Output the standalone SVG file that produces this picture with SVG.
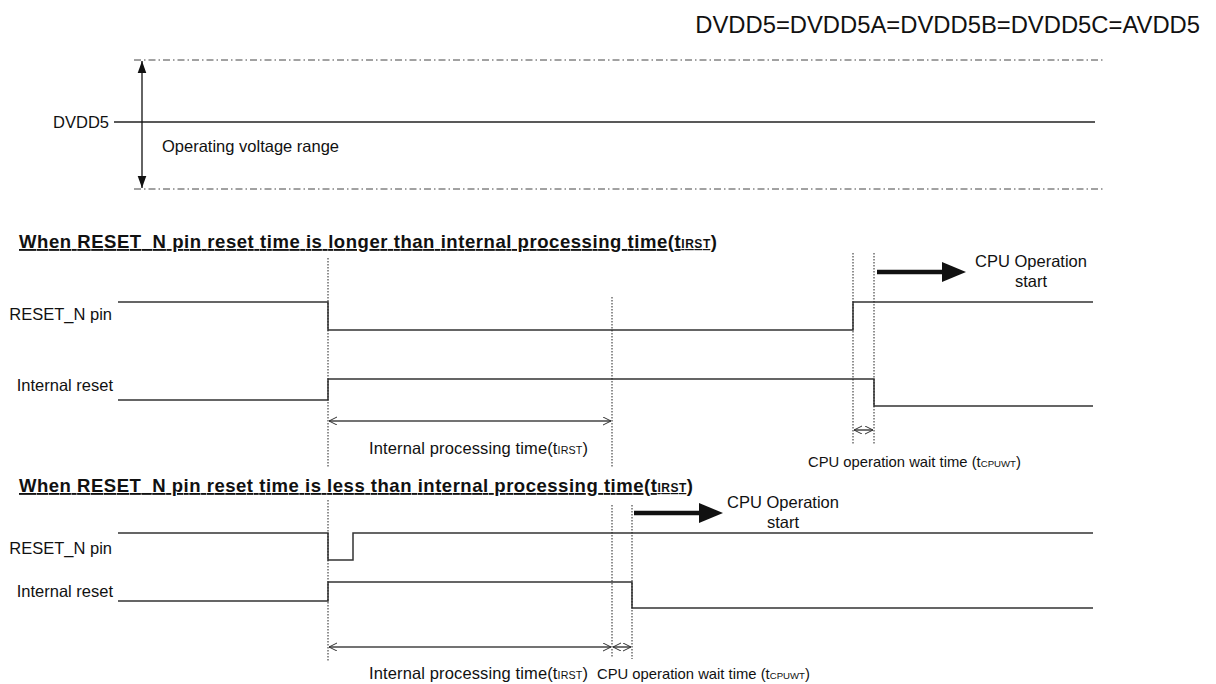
<svg xmlns="http://www.w3.org/2000/svg" width="1216" height="684" viewBox="0 0 1216 684">
<defs>
<marker id="open" markerWidth="10" markerHeight="10" refX="8" refY="4" orient="auto-start-reverse" markerUnits="userSpaceOnUse">
<path d="M0,0 L8,4 L0,8" fill="none" stroke="#333" stroke-width="1"/>
</marker>
<marker id="solid" markerWidth="12" markerHeight="16" refX="14" refY="5" orient="auto-start-reverse" markerUnits="userSpaceOnUse" viewBox="0 0 14 10">
<path d="M0,0 L14,5 L0,10 Z" fill="#111"/>
</marker>
<style>
.t{font-family:"Liberation Sans",Arial,sans-serif;font-size:16.5px;fill:#111}
.s{font-family:"Liberation Sans",Arial,sans-serif;font-size:14.8px;fill:#111}
.h{font-family:"Liberation Sans",Arial,sans-serif;font-size:23.8px;fill:#111}
.b{font-family:"Liberation Sans",Arial,sans-serif;font-size:18.5px;font-weight:bold;fill:#111;text-decoration:underline}
.sub{font-size:0.65em}
.sig{fill:none;stroke:#333;stroke-width:1.5}
.dd{fill:none;stroke:#444;stroke-width:1;stroke-dasharray:7 3 1.5 3}
.dot{fill:none;stroke:#222;stroke-width:1;stroke-dasharray:1.5 1.5}
.dim{fill:none;stroke:#444;stroke-width:1.5;marker-start:url(#open);marker-end:url(#open)}
.thick{fill:none;stroke:#111;stroke-width:4.5}
</style>
</defs>

<text id="header" class="h" x="1200" y="33" text-anchor="end">DVDD5=DVDD5A=DVDD5B=DVDD5C=AVDD5</text>

<g id="voltage">
<line class="dd" x1="134" y1="60" x2="1103" y2="60"/>
<line class="dd" x1="134" y1="189" x2="1103" y2="189"/>
<line x1="114" y1="122" x2="1095" y2="122" stroke="#222" stroke-width="1.3"/>
<line x1="142" y1="61" x2="142" y2="188" stroke="#111" stroke-width="1.3" marker-start="url(#solid)" marker-end="url(#solid)"/>
<text class="t" x="109" y="128" text-anchor="end">DVDD5</text>
<text class="t" x="162" y="152">Operating voltage range</text>
</g>

<g id="section1">
<text class="b" x="19" y="248" textLength="698" lengthAdjust="spacing">When RESET_N pin reset time is longer than internal processing time(t<tspan class="sub">IRST</tspan>)</text>
<text class="t" x="112" y="320" text-anchor="end">RESET_N pin</text>
<text class="t" x="113" y="391" text-anchor="end">Internal reset</text>
<g id="s1-reset-n"><path class="sig" d="M118,302 H328 V330 H853 V302 H1093"/></g>
<g id="s1-internal"><path class="sig" d="M118,400 H328 V379 H874 V406 H1093"/></g>
<text class="t" x="369" y="454" textLength="219" lengthAdjust="spacing">Internal processing time(t<tspan class="sub">IRST</tspan>)</text>
<text class="s" x="808" y="467">CPU operation wait time (t<tspan class="sub">CPUWT</tspan>)</text>
<text class="t" x="1031" y="267" text-anchor="middle">CPU Operation</text>
<text class="t" x="1031" y="287" text-anchor="middle">start</text>
</g>

<g id="section2">
<text class="b" x="19" y="492" textLength="674" lengthAdjust="spacing">When RESET_N pin reset time is less than internal processing time(t<tspan class="sub">IRST</tspan>)</text>
<text class="t" x="112" y="554" text-anchor="end">RESET_N pin</text>
<text class="t" x="113" y="597" text-anchor="end">Internal reset</text>
<g id="s2-reset-n"><path class="sig" d="M118,533 H328 V560 H353 V533 H1093"/></g>
<g id="s2-internal"><path class="sig" d="M118,601 H328 V582 H632 V608 H1093"/></g>
<text class="t" x="369" y="679" textLength="219" lengthAdjust="spacing">Internal processing time(t<tspan class="sub">IRST</tspan>)</text>
<text class="s" x="597" y="679">CPU operation wait time (t<tspan class="sub">CPUWT</tspan>)</text>
<text class="t" x="783" y="508" text-anchor="middle">CPU Operation</text>
<text class="t" x="783" y="528" text-anchor="middle">start</text>
</g>

<g id="connectors">
<line class="dot" x1="328" y1="258" x2="328" y2="467"/>
<line class="dot" x1="612" y1="297" x2="612" y2="467"/>
<line class="dot" x1="853" y1="253" x2="853" y2="445"/>
<line class="dot" x1="874" y1="253" x2="874" y2="445"/>
<line class="dim" x1="329" y1="421" x2="611" y2="421"/>
<line class="dim" x1="854" y1="430" x2="873" y2="430"/>
<line class="thick" x1="877" y1="272" x2="946" y2="272"/>
<path d="M942,262 L966,272 L942,282 Z" fill="#111"/>

<line class="dot" x1="328" y1="500" x2="328" y2="662"/>
<line class="dot" x1="612" y1="505" x2="612" y2="657"/>
<line class="dot" x1="632" y1="505" x2="632" y2="659"/>
<line class="dim" x1="329" y1="647" x2="611" y2="647"/>
<line class="dim" x1="613" y1="647" x2="631" y2="647"/>
<line class="thick" x1="634" y1="513" x2="703" y2="513"/>
<path d="M699,503 L723,513 L699,523 Z" fill="#111"/>
</g>
</svg>
